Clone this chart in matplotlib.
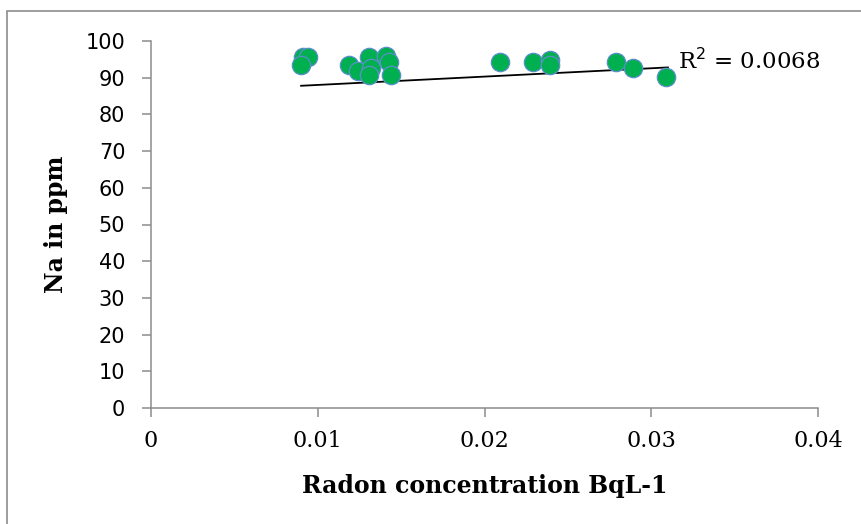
import matplotlib.pyplot as plt
from matplotlib.patches import Rectangle

# data
radon = [0.0091, 0.0094, 0.0090, 0.0119, 0.0124, 0.0131, 0.0132, 0.0131,
         0.0141, 0.0143, 0.0144, 0.0209, 0.0229, 0.0239, 0.0239, 0.0279,
         0.0289, 0.0309]
na = [95.6, 95.6, 93.5, 93.5, 91.7, 95.6, 92.6, 90.8,
      95.8, 94.4, 90.8, 94.4, 94.4, 94.9, 93.5, 94.4,
      92.6, 90.3]

trend_x = [0.0090, 0.0310]
trend_y = [87.8, 92.8]

x_ticks = [0, 0.01, 0.02, 0.03, 0.04]
x_labels = ["0", "0.01", "0.02", "0.03", "0.04"]
y_ticks = list(range(0, 101, 10))

W, H = 861, 524
fig = plt.figure(figsize=(W / 100, H / 100), dpi=100)
ax = fig.add_axes([151 / W, (H - 408) / H, (818 - 151) / W, (408 - 41) / H])

# outer chart frame (only left and top visible, rest is cropped)
fig.patches.append(Rectangle((7 / W, -0.1), 2.0, (H - 11) / H + 0.1,
                             transform=fig.transFigure, fill=False,
                             edgecolor="#8c8c8c", linewidth=1.2))

ax.plot(trend_x, trend_y, color="black", linewidth=1.3, zorder=2)
ax.scatter(radon, na, s=175, color="#00B050", edgecolors="#5B8FC9",
           linewidths=0.9, zorder=3)

ax.set_xlim(0, 0.04)
ax.set_ylim(0, 100)

for s in ["top", "right"]:
    ax.spines[s].set_visible(False)
for s in ["left", "bottom"]:
    ax.spines[s].set_color("#8c8c8c")
    ax.spines[s].set_linewidth(1.1)

ax.set_xticks(x_ticks)
ax.set_xticklabels(x_labels, family="DejaVu Serif", fontsize=16)
ax.set_yticks(y_ticks)
ax.set_yticklabels([str(v) for v in y_ticks], family="DejaVu Sans", fontsize=15)
ax.tick_params(axis="both", direction="out", length=6.5, width=1.1,
               color="#8c8c8c")
ax.tick_params(axis="x", pad=9)
ax.tick_params(axis="y", pad=12)

ax.set_xlabel("Radon concentration BqL-1", family="DejaVu Serif",
              fontweight="bold", fontsize=17, labelpad=16)
ax.set_ylabel("Na in ppm", family="DejaVu Serif", fontweight="bold",
              fontsize=17, labelpad=13)

ax.text(0.0316, 94.6, r"R$^2$ = 0.0068", family="DejaVu Serif", fontsize=16.5,
        va="center", ha="left")

fig.savefig("out.png", dpi=100)
